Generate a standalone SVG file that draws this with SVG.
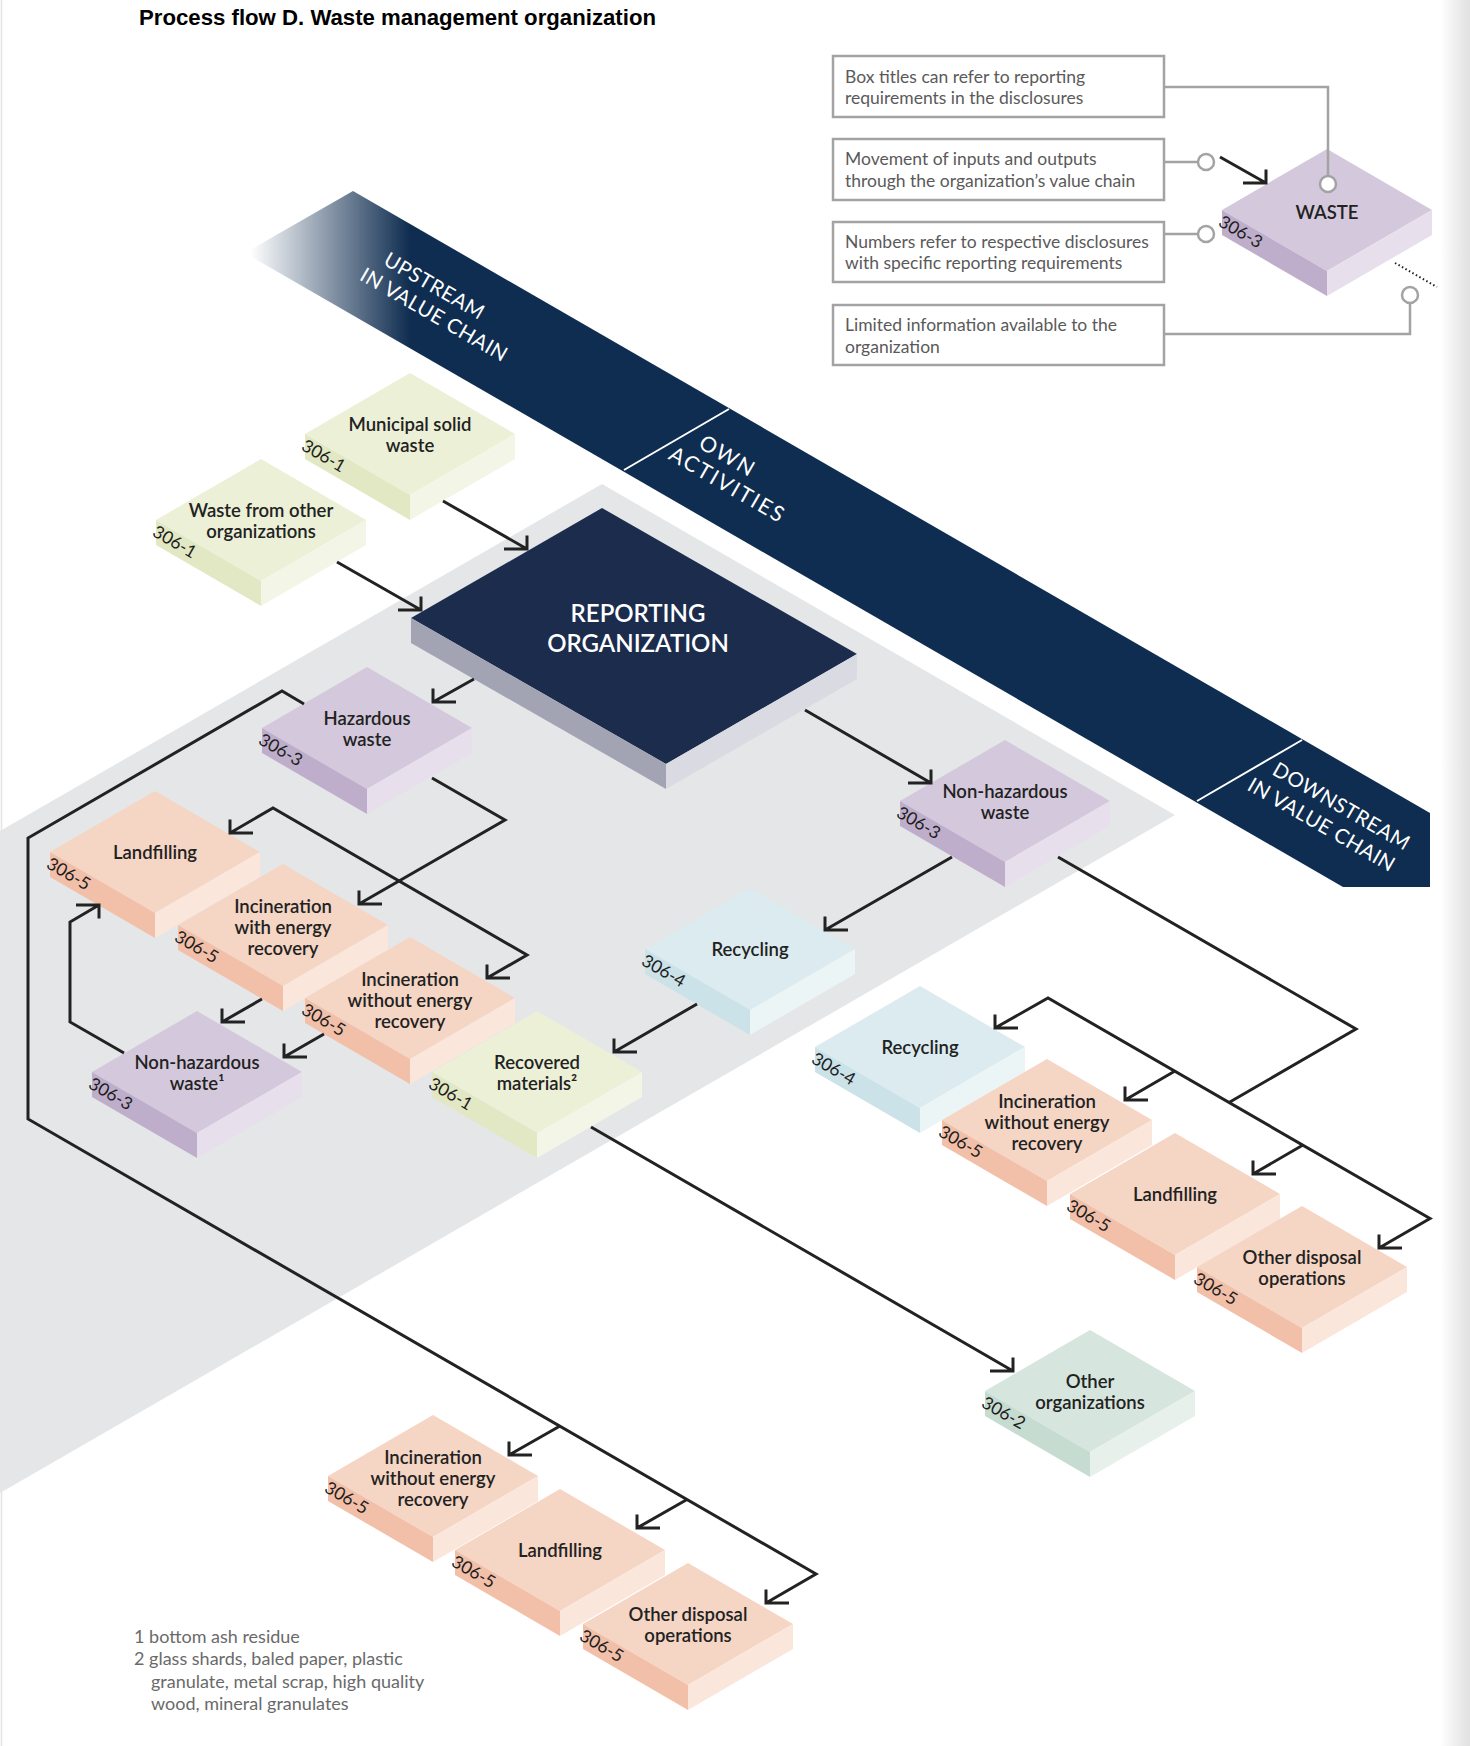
<svg xmlns="http://www.w3.org/2000/svg" xmlns:xlink="http://www.w3.org/1999/xlink" width="1470" height="1746" viewBox="0 0 1470 1746">
<style>
.nt{font-family:Lato,"Noto Sans",sans-serif;font-size:18.5px;font-weight:600;fill:#222;text-anchor:middle}
.code{font-family:Lato,"Noto Sans",sans-serif;font-size:17.5px;fill:#1e1e1e}
.conn{fill:none;stroke:#222;stroke-width:3;stroke-linejoin:miter;stroke-linecap:butt}
.legbox{fill:#fff;stroke:#a3a3a3;stroke-width:2.5}
.legt{font-family:Lato,"Noto Sans",sans-serif;font-size:17.5px;font-weight:400;fill:#5a5a5a}
.legline{fill:none;stroke:#a3a3a3;stroke-width:2.5}
.legcirc{fill:#fff;stroke:#a3a3a3;stroke-width:2.5}
.bandt{font-family:Lato,"Noto Sans",sans-serif;font-size:20.5px;fill:#fff;text-anchor:middle;letter-spacing:0.5px}
.bandw{font-family:Lato,"Noto Sans",sans-serif;font-size:21.5px;fill:#fff;text-anchor:middle;letter-spacing:2px}
.foot{font-family:Lato,"Noto Sans",sans-serif;font-size:18px;font-weight:400;fill:#6a6a6a}
</style>
<defs>
<linearGradient id="bandfade" gradientUnits="userSpaceOnUse" x1="250" y1="0" x2="410" y2="0">
<stop offset="0" stop-color="#0f2d50" stop-opacity="0"/>
<stop offset="1" stop-color="#0f2d50" stop-opacity="1"/>
</linearGradient>
<linearGradient id="pageedge" x1="0" y1="0" x2="1" y2="0">
<stop offset="0" stop-color="#e6e6e6" stop-opacity="0"/>
<stop offset="0.8" stop-color="#e6e6e6" stop-opacity="1"/>
<stop offset="1" stop-color="#e2e2e2" stop-opacity="1"/>
</linearGradient>
<g id="s-purple"><polygon points="-105,0 0,-61 105,0 0,61" fill="#d4c8dc"/><polygon points="-105,0 0,61 0,86 -105,25" fill="#bfaecb"/><polygon points="0,61 105,0 105,25 0,86" fill="#e7e0ec"/></g>
<g id="s-orange"><polygon points="-105,0 0,-61 105,0 0,61" fill="#f5d5c4"/><polygon points="-105,0 0,61 0,86 -105,25" fill="#f2bfa9"/><polygon points="0,61 105,0 105,25 0,86" fill="#fbe6dc"/></g>
<g id="s-green"><polygon points="-105,0 0,-61 105,0 0,61" fill="#ebf0d6"/><polygon points="-105,0 0,61 0,86 -105,25" fill="#e2e8c3"/><polygon points="0,61 105,0 105,25 0,86" fill="#f3f6e7"/></g>
<g id="s-blue"><polygon points="-105,0 0,-61 105,0 0,61" fill="#dbebef"/><polygon points="-105,0 0,61 0,86 -105,25" fill="#cbe2e8"/><polygon points="0,61 105,0 105,25 0,86" fill="#ecf5f6"/></g>
<g id="s-mint"><polygon points="-105,0 0,-61 105,0 0,61" fill="#d6e5dd"/><polygon points="-105,0 0,61 0,86 -105,25" fill="#c6dcd1"/><polygon points="0,61 105,0 105,25 0,86" fill="#e7f0eb"/></g>
</defs>

<rect x="0" y="0" width="1470" height="1746" fill="#fff"/>
<rect x="1440" y="0" width="30" height="1746" fill="url(#pageedge)"/>
<line x1="1.5" y1="0" x2="1.5" y2="1746" stroke="#e4e4e4" stroke-width="1.5"/>

<text x="139" y="24.5" font-family="'Liberation Sans',Arial,sans-serif" font-size="22.2" font-weight="bold" fill="#000">Process flow D. Waste management organization</text>

<g id="background">
<polygon points="0,831 602,484 1175,815 0,1493" fill="#e5e6e8"/>
<polygon points="353,191 1430,813 1430,887 1343,887 245,253" fill="url(#bandfade)"/>
<line x1="624" y1="470" x2="729" y2="409" stroke="#fff" stroke-width="2"/>
<line x1="1197" y1="801" x2="1302" y2="740" stroke="#fff" stroke-width="2"/>
<g transform="translate(434.5,300) rotate(30)"><text class="bandt" x="-7" y="-5">UPSTREAM</text><text class="bandt" x="7" y="20">IN VALUE CHAIN</text></g>
<g transform="translate(729,470) rotate(30)"><text class="bandw" x="-8" y="-4">OWN</text><text class="bandw" x="6" y="21">ACTIVITIES</text></g>
<g transform="translate(1331.5,815.5) rotate(30)"><text class="bandt" x="4" y="-6">DOWNSTREAM</text><text class="bandt" x="-4" y="20">IN VALUE CHAIN</text></g>
</g>

<g id="legend">
<rect class="legbox" x="833" y="56" width="331" height="61"/>
<text class="legt" x="845" y="83">Box titles can refer to reporting</text>
<text class="legt" x="845" y="104">requirements in the disclosures</text>
<rect class="legbox" x="833" y="139" width="331" height="61"/>
<text class="legt" x="845" y="165">Movement of inputs and outputs</text>
<text class="legt" x="845" y="187">through the organization’s value chain</text>
<rect class="legbox" x="833" y="222" width="331" height="60"/>
<text class="legt" x="845" y="248">Numbers refer to respective disclosures</text>
<text class="legt" x="845" y="269">with specific reporting requirements</text>
<rect class="legbox" x="833" y="305" width="331" height="60"/>
<text class="legt" x="845" y="331">Limited information available to the</text>
<text class="legt" x="845" y="353">organization</text>
</g>

<g id="n-waste-legend">
<use href="#s-purple" transform="translate(1327,210)"/>
<text class="nt" x="1327" y="219">WASTE</text>
<text class="code" transform="translate(1225,210) rotate(30)" x="1" y="17">306-3</text>
</g>

<g id="legend-connectors">
<polyline class="legline" points="1164,87 1328,87 1328,176"/>
<circle class="legcirc" cx="1328" cy="184" r="8"/>
<line class="legline" x1="1164" y1="162" x2="1198" y2="162"/>
<circle class="legcirc" cx="1206" cy="162" r="8"/>
<line class="legline" x1="1164" y1="234" x2="1198" y2="234"/>
<circle class="legcirc" cx="1206" cy="234" r="8"/>
<polyline class="legline" points="1164,334 1410,334 1410,303"/>
<circle class="legcirc" cx="1410" cy="295" r="8"/>
<line x1="1395" y1="263" x2="1437" y2="287" stroke="#222" stroke-width="2" stroke-dasharray="1.5 2.5"/>
<path class="conn" d="M1220,157 L1266,183 M1243,183 L1266,183 L1266,169.5"/>
</g>

<g id="n-municipal"><use href="#s-green" transform="translate(410,434)"/><text class="nt" x="410" y="431">Municipal solid</text><text class="nt" x="410" y="452">waste</text><text class="code" transform="translate(308,434) rotate(30)" x="1" y="17">306-1</text></g>
<g id="n-waste-other"><use href="#s-green" transform="translate(261,520)"/><text class="nt" x="261" y="517">Waste from other</text><text class="nt" x="261" y="538">organizations</text><text class="code" transform="translate(159,520) rotate(30)" x="1" y="17">306-1</text></g>

<g id="n-reporting">
<polygon points="411,618 602,508 857,654 666,764" fill="#1b2c4d"/>
<polygon points="411,618 666,764 666,789 411,643" fill="#a2a4b4"/>
<polygon points="666,764 857,654 857,679 666,789" fill="#dadae2"/>
<text x="638" y="622" font-family="Lato,'Noto Sans',sans-serif" font-size="24" font-weight="600" fill="#fff" text-anchor="middle">REPORTING</text>
<text x="638" y="652" font-family="Lato,'Noto Sans',sans-serif" font-size="24" font-weight="600" fill="#fff" text-anchor="middle">ORGANIZATION</text>
</g>

<g id="n-hazardous"><use href="#s-purple" transform="translate(367,728)"/><text class="nt" x="367" y="725">Hazardous</text><text class="nt" x="367" y="746">waste</text><text class="code" transform="translate(265,728) rotate(30)" x="1" y="17">306-3</text></g>
<g id="n-landfill-l"><use href="#s-orange" transform="translate(155,852)"/><text class="nt" x="155" y="859">Landfilling</text><text class="code" transform="translate(53,852) rotate(30)" x="1" y="17">306-5</text></g>
<g id="n-incin-with-l"><use href="#s-orange" transform="translate(283,925)"/><text class="nt" x="283" y="913">Incineration</text><text class="nt" x="283" y="934">with energy</text><text class="nt" x="283" y="955">recovery</text><text class="code" transform="translate(181,925) rotate(30)" x="1" y="17">306-5</text></g>
<g id="n-incin-without-l"><use href="#s-orange" transform="translate(410,998)"/><text class="nt" x="410" y="986">Incineration</text><text class="nt" x="410" y="1007">without energy</text><text class="nt" x="410" y="1028">recovery</text><text class="code" transform="translate(308,998) rotate(30)" x="1" y="17">306-5</text></g>
<g id="n-nonhaz-l"><use href="#s-purple" transform="translate(197,1072)"/><text class="nt" x="197" y="1069">Non-hazardous</text><text class="nt" x="197" y="1090">waste¹</text><text class="code" transform="translate(95,1072) rotate(30)" x="1" y="17">306-3</text></g>
<g id="n-recovered"><use href="#s-green" transform="translate(537,1072)"/><text class="nt" x="537" y="1069">Recovered</text><text class="nt" x="537" y="1090">materials²</text><text class="code" transform="translate(435,1072) rotate(30)" x="1" y="17">306-1</text></g>
<g id="n-recycling-m"><use href="#s-blue" transform="translate(750,949)"/><text class="nt" x="750" y="956">Recycling</text><text class="code" transform="translate(648,949) rotate(30)" x="1" y="17">306-4</text></g>
<g id="n-nonhaz-r"><use href="#s-purple" transform="translate(1005,801)"/><text class="nt" x="1005" y="798">Non-hazardous</text><text class="nt" x="1005" y="819">waste</text><text class="code" transform="translate(903,801) rotate(30)" x="1" y="17">306-3</text></g>
<g id="n-recycling-r"><use href="#s-blue" transform="translate(920,1047)"/><text class="nt" x="920" y="1054">Recycling</text><text class="code" transform="translate(818,1047) rotate(30)" x="1" y="17">306-4</text></g>
<g id="n-incin-without-r"><use href="#s-orange" transform="translate(1047,1120)"/><text class="nt" x="1047" y="1108">Incineration</text><text class="nt" x="1047" y="1129">without energy</text><text class="nt" x="1047" y="1150">recovery</text><text class="code" transform="translate(945,1120) rotate(30)" x="1" y="17">306-5</text></g>
<g id="n-landfill-r"><use href="#s-orange" transform="translate(1175,1194)"/><text class="nt" x="1175" y="1201">Landfilling</text><text class="code" transform="translate(1073,1194) rotate(30)" x="1" y="17">306-5</text></g>
<g id="n-other-disp-r"><use href="#s-orange" transform="translate(1302,1267)"/><text class="nt" x="1302" y="1264">Other disposal</text><text class="nt" x="1302" y="1285">operations</text><text class="code" transform="translate(1200,1267) rotate(30)" x="1" y="17">306-5</text></g>
<g id="n-other-orgs"><use href="#s-mint" transform="translate(1090,1391)"/><text class="nt" x="1090" y="1388">Other</text><text class="nt" x="1090" y="1409">organizations</text><text class="code" transform="translate(988,1391) rotate(30)" x="1" y="17">306-2</text></g>
<g id="n-incin-without-b"><use href="#s-orange" transform="translate(433,1476)"/><text class="nt" x="433" y="1464">Incineration</text><text class="nt" x="433" y="1485">without energy</text><text class="nt" x="433" y="1506">recovery</text><text class="code" transform="translate(331,1476) rotate(30)" x="1" y="17">306-5</text></g>
<g id="n-landfill-b"><use href="#s-orange" transform="translate(560,1550)"/><text class="nt" x="560" y="1557">Landfilling</text><text class="code" transform="translate(458,1550) rotate(30)" x="1" y="17">306-5</text></g>
<g id="n-other-disp-b"><use href="#s-orange" transform="translate(688,1624)"/><text class="nt" x="688" y="1621">Other disposal</text><text class="nt" x="688" y="1642">operations</text><text class="code" transform="translate(586,1624) rotate(30)" x="1" y="17">306-5</text></g>

<g id="connectors">
<path class="conn" d="M443,501 L527,549 M504,549 L527,549 L527,535.5"/>
<path class="conn" d="M337,562 L421,610 M398,610 L421,610 L421,596.5"/>
<path class="conn" d="M474,679 L433,702 M456,702 L433,702 L433,688.5"/>
<path class="conn" d="M805,710 L931,783 M908,783 L931,783 L931,769.5"/>
<path class="conn" d="M432,778 L505,820 L359,904 M382,904 L359,904 L359,890.5"/>
<path class="conn" d="M230,833 L273,808 L527,955 L487,978 M253,833 L230,833 L230,819.5 M510,978 L487,978 L487,964.5"/>
<path class="conn" d="M262,999 L222,1022 M245,1022 L222,1022 L222,1008.5"/>
<path class="conn" d="M324,1034 L284,1057 M307,1057 L284,1057 L284,1043.5"/>
<path class="conn" d="M124,1053 L70,1022 L70,922 L99,905 M76,905 L99,905 L99,918.5"/>
<path class="conn" d="M304,704 L282,691 L28,838 L28,1119 L816,1574 L766,1603 M789,1603 L766,1603 L766,1589.5"/>
<path class="conn" d="M560,1426 L509,1455 M532,1455 L509,1455 L509,1441.5"/>
<path class="conn" d="M687,1499.5 L637,1528 M660,1528 L637,1528 L637,1514.5"/>
<path class="conn" d="M952,857 L825,930 M848,930 L825,930 L825,916.5"/>
<path class="conn" d="M1058,857 L1356,1029 L1229,1102.5"/>
<path class="conn" d="M995,1028 L1048,998 L1430,1218.5 L1379,1248 M1018,1028 L995,1028 L995,1014.5 M1402,1248 L1379,1248 L1379,1234.5"/>
<path class="conn" d="M1175,1071 L1125,1100 M1148,1100 L1125,1100 L1125,1086.5"/>
<path class="conn" d="M1303,1145 L1253,1174 M1276,1174 L1253,1174 L1253,1160.5"/>
<path class="conn" d="M697,1004 L614,1052 M637,1052 L614,1052 L614,1038.5"/>
<path class="conn" d="M591,1127 L1013,1371 M990,1371 L1013,1371 L1013,1357.5"/>
</g>

<g id="footnotes">
<text class="foot" x="134" y="1643">1 bottom ash residue</text>
<text class="foot" x="134" y="1665">2 glass shards, baled paper, plastic</text>
<text class="foot" x="151" y="1688">granulate, metal scrap, high quality</text>
<text class="foot" x="151" y="1710">wood, mineral granulates</text>
</g>
</svg>
